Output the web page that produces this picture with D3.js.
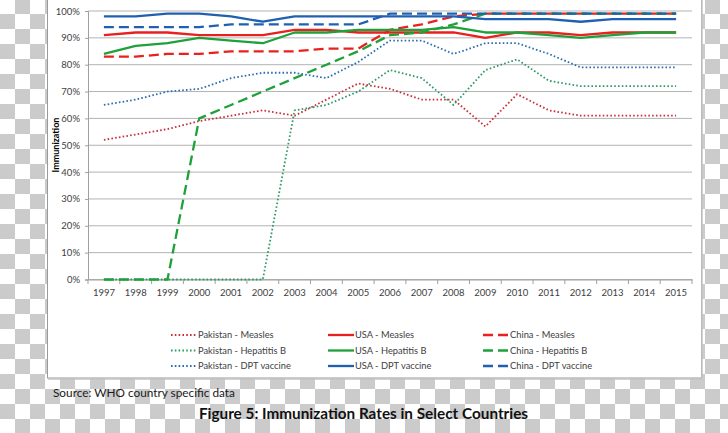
<!DOCTYPE html>
<html><head><meta charset="utf-8">
<script src="https://cdn.jsdelivr.net/npm/d3@7"></script>
<style>html,body{margin:0;padding:0;background:#fff;}svg{display:block;}</style>
</head><body>
<script>
const years = ["1997","1998","1999","2000","2001","2002","2003","2004","2005","2006","2007","2008","2009","2010","2011","2012","2013","2014","2015"];
const yTicks = [0,0.1,0.2,0.3,0.4,0.5,0.6,0.7,0.8,0.9,1.0];

const pakistanMeasles = [52,54,56,59,61,63,61,67,73,71,67,67,57,69,63,61,61,61,61];
const usaMeasles      = [91,92,92,91,91,91,93,93,92,92,92,92,90,92,92,91,92,92,92];
const chinaMeasles    = [83,83,84,84,85,85,85,86,86,93,95,98,99,99,99,99,99,99,99];
const pakistanHepB    = [0,0,0,0,0,0,63,65,70,78,75,65,78,82,74,72,72,72,72];
const usaHepB         = [84,87,88,90,89,88,92,92,93,93,93,94,92,92,91,90,91,92,92];
const chinaHepB       = [0,0,0,60,65,70,75,80,85,91,92,95,99,99,99,99,99,99,99];
const pakistanDPT     = [65,67,70,71,75,77,77,75,81,89,89,84,88,88,84,79,79,79,79];
const usaDPT          = [98,98,99,99,98,96,98,98,98,98,98,98,97,97,97,96,97,97,97];
const chinaDPT        = [94,94,94,94,95,95,95,95,95,99,99,99,99,99,99,99,99,99,99];

const seriesNames = ["Pakistan - Measles","USA - Measles","China - Measles",
  "Pakistan - Hepatitis B","USA - Hepatitis B","China - Hepatitis B",
  "Pakistan - DPT vaccine","USA - DPT vaccine","China - DPT vaccine"];
const seriesValues = [pakistanMeasles,usaMeasles,chinaMeasles,pakistanHepB,usaHepB,chinaHepB,pakistanDPT,usaDPT,chinaDPT];

const styles = [
  {c:"#c8303a", w:1.8, d:"1.6,2.2"},
  {c:"#e8211f", w:2.3, d:null},
  {c:"#e8211f", w:2.3, d:"10,5"},
  {c:"#2e9a66", w:1.8, d:"1.6,2.2"},
  {c:"#1ea13a", w:2.3, d:null},
  {c:"#1ea13a", w:2.3, d:"10,5"},
  {c:"#2a6db2", w:1.8, d:"1.6,2.2"},
  {c:"#1f61b0", w:2.3, d:null},
  {c:"#1f61b0", w:2.3, d:"10,5"}
];

const W = 728, H = 433;
const svg = d3.select("body").append("svg").attr("width", W).attr("height", H)
  .style("font-family", "Lato, 'Open Sans', sans-serif");

// transparent checkerboard background
const defs = svg.append("defs");
const pat = defs.append("pattern").attr("id","chk").attr("patternUnits","userSpaceOnUse")
  .attr("width",30).attr("height",30).attr("x",0).attr("y",-1);
pat.append("rect").attr("width",30).attr("height",30).attr("fill","#fff");
pat.append("rect").attr("x",15).attr("y",0).attr("width",15).attr("height",15).attr("fill","#cbcbcb");
pat.append("rect").attr("x",0).attr("y",15).attr("width",15).attr("height",15).attr("fill","#cbcbcb");
svg.append("rect").attr("width",W).attr("height",H).attr("fill","url(#chk)");

// chart box
svg.append("rect").attr("x",47.5).attr("y",-5).attr("width",654).attr("height",383)
  .attr("fill","#fff").attr("stroke","#9a9a9a").attr("stroke-width",1);
svg.append("line").attr("x1",702).attr("x2",702).attr("y1",-5).attr("y2",379)
  .attr("stroke","#c4c4c4").attr("stroke-width",1.5);
svg.append("line").attr("x1",48).attr("x2",702).attr("y1",379).attr("y2",379)
  .attr("stroke","#c4c4c4").attr("stroke-width",1.5);

const x = d3.scaleBand().domain(years).range([88, 692]).padding(0);
const y = d3.scaleLinear().domain([0, 1]).range([279.5, 11]);

// gridlines
svg.append("g").selectAll("line").data(yTicks).join("line")
  .attr("x1", 88).attr("x2", 692)
  .attr("y1", d => y(d)).attr("y2", d => y(d))
  .attr("stroke", "#b3b3b3").attr("stroke-width", 1);

// y axis
const yAxis = svg.append("g").attr("transform","translate(88,0)")
  .call(d3.axisLeft(y).tickValues(yTicks).tickFormat(d3.format(".0%")).tickSize(3).tickPadding(5));
yAxis.select(".domain").attr("stroke","#a0a0a0");
yAxis.selectAll(".tick line").attr("stroke","#a0a0a0");
yAxis.selectAll("text").attr("font-size", 9.5).attr("fill","#404040")
  .attr("font-family","Lato, sans-serif");

// x axis
const xAxis = svg.append("g").attr("transform","translate(0,279.5)")
  .call(d3.axisBottom(x).tickSize(0).tickPadding(10));
xAxis.select(".domain").attr("stroke","#a0a0a0");
xAxis.selectAll("text").attr("font-size", 9.5).attr("fill","#404040")
  .attr("font-family","Lato, sans-serif");
// category boundary ticks
const bounds = years.map(d => x(d)).concat([x(years[years.length-1]) + x.bandwidth()]);
svg.append("g").selectAll("line").data(bounds).join("line")
  .attr("x1", d => d).attr("x2", d => d).attr("y1", 279.5).attr("y2", 284)
  .attr("stroke","#a0a0a0");

// y axis title
svg.append("text").attr("transform","translate(59,145) rotate(-90)")
  .attr("text-anchor","middle").attr("font-size",9).attr("font-weight","bold")
  .attr("fill","#000").text("Immunization");

// lines
const line = d3.line().x((d,i) => x(years[i]) + x.bandwidth()/2).y(d => y(d/100));
seriesValues.forEach((vals, i) => {
  const s = styles[i];
  const p = svg.append("path").datum(vals).attr("d", line)
    .attr("fill","none").attr("stroke", s.c).attr("stroke-width", s.w)
    .attr("stroke-linejoin","round");
  if (s.d) p.attr("stroke-dasharray", s.d);
});

// legend
const legCols = [171, 328, 483];
const legRows = [335, 350.5, 366];
seriesNames.forEach((name, i) => {
  const col = i % 3, row = Math.floor(i / 3);
  const s = styles[i];
  const lx = legCols[col], ly = legRows[row];
  const l = svg.append("line").attr("x1", lx).attr("x2", lx + 26).attr("y1", ly).attr("y2", ly)
    .attr("stroke", s.c).attr("stroke-width", s.w);
  if (s.d) l.attr("stroke-dasharray", s.d);
  svg.append("text").attr("x", lx + 27).attr("y", ly + 3.3).attr("font-size", 9.3)
    .attr("fill","#404040").text(name);
});

// source & caption
svg.append("text").attr("x", 53).attr("y", 397).attr("font-size", 11.8)
  .attr("fill","#1a1a1a").text("Source: WHO country specific data");
svg.append("text").attr("x", 363.5).attr("y", 419).attr("text-anchor","middle")
  .attr("font-size", 15.3).attr("font-weight","bold").attr("fill","#111")
  .text("Figure 5: Immunization Rates in Select Countries");
</script>
</body></html>
